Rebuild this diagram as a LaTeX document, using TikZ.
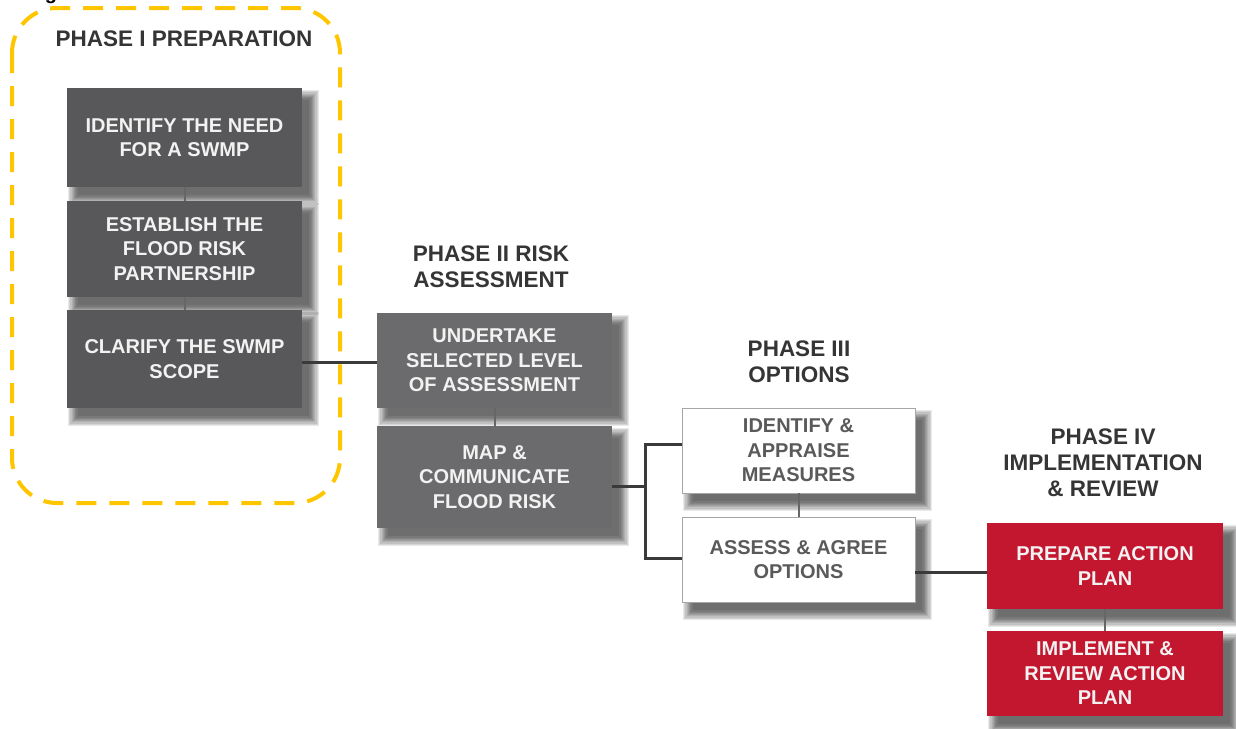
\documentclass[tikz,border=0pt]{standalone}
\usepackage{fontspec}
\setmainfont{Liberation Sans}
\usetikzlibrary{calc,backgrounds}
\definecolor{ydash}{HTML}{FFC600}
\definecolor{darkbox}{HTML}{58585A}
\definecolor{midbox}{HTML}{6B6B6D}
\definecolor{redbox}{HTML}{C3162F}
\definecolor{titlecol}{HTML}{353535}
\definecolor{boxtext}{HTML}{F2F2F2}
\definecolor{optext}{HTML}{5A5A5A}
\definecolor{conn}{HTML}{3A3A3A}
\tikzset{
  every node/.style={inner sep=0pt, outer sep=0pt},
  stepbox/.style={rectangle, minimum width=235pt, align=center, text=boxtext,
    font=\fontsize{20}{24.5}\selectfont\bfseries},
  darkstep/.style={stepbox, fill=darkbox},
  midstep/.style={stepbox, fill=midbox},
  optstep/.style={stepbox, fill=white, draw=gray!70, line width=1pt, text=optext, minimum width=233pt},
  redstep/.style={stepbox, fill=redbox, minimum width=236pt},
  phasetitle/.style={align=center, text=titlecol, font=\fontsize{22.5}{26}\selectfont\bfseries},
  mainline/.style={draw=conn, line width=3pt},
  subline/.style={draw=gray!80!black, line width=2pt},
  softshadow/.style={fill=black, opacity=0.085},
}
\begin{document}
\begin{tikzpicture}[x=1pt,y=-1pt]
\begin{scope}[on background layer]
\fill[white] (0,0) rectangle (1236,728);
\end{scope}
\useasboundingbox (0,0) rectangle (1236,728);

% cropped caption fragment
\node[anchor=base, font=\fontsize{20}{24}\selectfont\bfseries] (cap) at (51,-1) {g};

% Phase I group
\draw[ydash, line width=4pt, dash pattern=on 20pt off 13pt, rounded corners=45pt]
  (12,8) rectangle (340,503);
\node[phasetitle] (t1) at (184,39) {PHASE I PREPARATION};

\node[darkstep, minimum height=99pt] (b1) at (184.5,137.5) {IDENTIFY THE NEED\\FOR A SWMP};
\node[darkstep, minimum height=96pt] (b2) at (184.5,249) {ESTABLISH THE\\FLOOD RISK\\PARTNERSHIP};
\node[darkstep, minimum height=98pt] (b3) at (184.5,359) {CLARIFY THE SWMP\\SCOPE};

% Phase II
\node[phasetitle] (t2) at (491,267) {PHASE II RISK\\ASSESSMENT};
\node[midstep, minimum height=95pt] (a1) at (494.5,360.5) {UNDERTAKE\\SELECTED LEVEL\\OF ASSESSMENT};
\node[midstep, minimum height=102pt] (a2) at (494.5,477) {MAP \&\\COMMUNICATE\\FLOOD RISK};

% Phase III
\node[phasetitle] (t3) at (799,362) {PHASE III\\OPTIONS};
\node[optstep, minimum height=85pt] (c1) at (798.5,450.5) {IDENTIFY \&\\APPRAISE\\MEASURES};
\node[optstep, minimum height=85pt] (c2) at (798.5,559.5) {ASSESS \& AGREE\\OPTIONS};

% Phase IV
\node[phasetitle] (t4) at (1103,463) {PHASE IV\\IMPLEMENTATION\\\& REVIEW};
\node[redstep, minimum height=86pt] (d1) at (1105,566) {PREPARE ACTION\\PLAN};
\node[redstep, minimum height=85pt] (d2) at (1105,673.5) {IMPLEMENT \&\\REVIEW ACTION\\PLAN};

% soft drop shadows
\begin{scope}[on background layer]
\foreach \n in {b1,b2,b3,a1,a2,c1,c2,d1,d2}{
  \foreach \r in {0,...,8}{
    \fill[softshadow] ($(\n.north west)+(9-9+\r*1.2+1, 10-9+\r*1.2+1)$) rectangle ($(\n.south east)+(9+9-\r*1.2-1, 10+9-\r*1.2-1)$);
  }
}
\end{scope}

% connectors inside phases
\draw[subline] (b1.south) -- (b2.north);
\draw[subline] (b2.south) -- (b3.north);
\draw[subline] (a1.south) -- (a2.north);
\draw[subline] (c1.south) -- (c2.north);
\draw[subline] (d1.south) -- (d2.north);

% connectors between phases
\coordinate (p1) at (340,362);
\draw[mainline] (b3.east |- p1) -- (a1.west |- p1);

\coordinate (j) at (645,486);
\coordinate (ju) at (645,444);
\coordinate (jd) at (645,558);
\draw[mainline] (a2.east |- j) -- (j);
\draw[mainline] (c1.west |- ju) -- (ju) -- (jd) -- (c2.west |- jd);

\coordinate (p3) at (950,572);
\draw[mainline] (c2.east |- p3) -- (d1.west |- p3);
\end{tikzpicture}
\end{document}
